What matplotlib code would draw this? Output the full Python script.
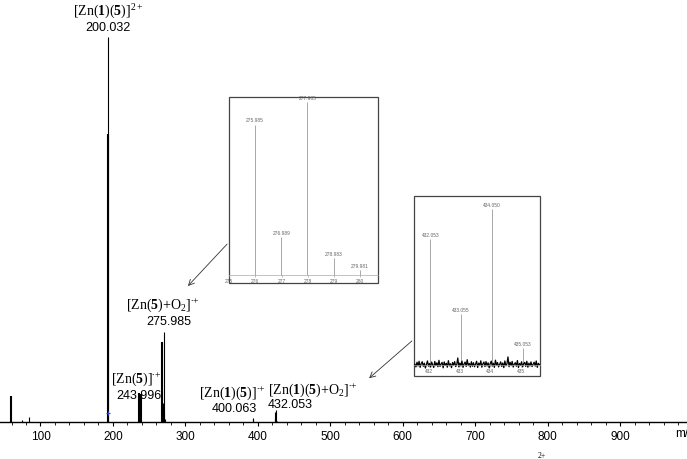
import numpy as np
import matplotlib.pyplot as plt
from matplotlib.patches import Rectangle

plt.rcParams['font.family'] = 'Liberation Sans'
plt.rcParams['mathtext.fontset'] = 'custom'
plt.rcParams['mathtext.rm'] = 'Liberation Serif'
plt.rcParams['mathtext.it'] = 'Liberation Serif:italic'
plt.rcParams['mathtext.bf'] = 'Liberation Serif:bold'

# main spectrum: broad (profile) peaks and thin sticks, m/z vs relative intensity (%)
profile_mz = [59.3, 192.9, 236.4, 239.2, 268.1]
profile_int = [6.75, 74.8, 7.5, 7.3, 20.8]
stick_mz = [74.5, 84.5, 192.9, 269.1, 270.1, 271.1, 272.1,
            393.3, 394.0, 423.1, 424.1, 425.1, 426.1]
stick_int = [0.4, 1.3, 100.0, 5.0, 23.4, 2.3, 0.8,
             1.0, 0.7, 2.6, 1.0, 3.1, 0.35]

# peak annotations: (m/z, intensity) anchor, formula, measured mass
ann_formula = [r'$[\mathrm{Zn}(\mathbf{1})(\mathbf{5})]^{2+}$',
               r'$[\mathrm{Zn}(\mathbf{5}){+}\mathrm{O}_2]^{\bullet{+}}$',
               r'$[\mathrm{Zn}(\mathbf{5})]^{\bullet{+}}$',
               r'$[\mathrm{Zn}(\mathbf{1})(\mathbf{5})]^{\bullet{+}}$',
               r'$[\mathrm{Zn}(\mathbf{1})(\mathbf{5}){+}\mathrm{O}_2]^{\bullet{+}}$']
ann_formula_xy = [(193.2, 106.8), (269.1, 30.6), (231.8, 11.4), (364.4, 7.8), (476.2, 8.6)]
ann_mass = ['200.032', '275.985', '243.996', '400.063', '432.053']
ann_mass_xy = [(193.2, 102.6), (277.4, 26.2), (236.0, 7.0), (367.1, 3.6), (444.5, 4.7)]

# inset 1: isotope pattern of [Zn(5)+O2]
in1_mz = [275.985, 276.989, 277.985, 278.983, 279.981]
in1_int = [87, 22, 100, 10, 3]
in1_ticks = [275, 276, 277, 278, 279, 280]

# inset 2: isotope pattern of [Zn(1)(5)+O2]
in2_mz = [432.053, 433.055, 434.050, 435.053]
in2_int = [81, 33, 100, 11]
in2_ticks = [432, 433, 434, 435]
in2_noise = [0.5, -1.2, 1.8, -0.6, 2.4, -1.5, 0.9, 2.1, -0.8, 1.2, -1.9, 0.4,
             2.6, -0.7, 1.0, -1.3, 1.9, 0.2, -1.6, 2.3, -0.4, 1.4, -1.1, 3.0,
             -0.9, 0.6, 1.7, -1.8, 2.0, -0.3, 1.1, -1.4, 2.8, -0.5, 0.8, -1.7,
             1.6, -0.2, 2.2, -1.0, 0.3, 4.5, -1.2, 1.3, -0.6, 2.5, -1.5, 0.7,
             1.9, -0.9, 3.4, -0.4, 1.0, -1.3, 2.1, -0.8, 1.5, -1.1, 0.6, 2.4,
             -1.6, 1.2, -0.3, 2.7, -1.4, 0.8, 1.9, -1.0, 2.2, -0.6, 1.4, -1.8,
             0.9, 2.5, -0.7, 1.1, -1.5, 3.1, -0.2, 1.6, -1.2, 0.4, 2.0, -0.9,
             1.3, -1.7, 2.6, -0.5, 0.7, 5.2, -1.1, 1.8, -0.4, 2.3, -1.3, 0.6,
             1.5, -0.8, 2.9, -1.6, 1.0, -0.3, 2.1, -1.2, 0.8, 1.7, -0.9, 2.4,
             -1.4, 1.2, -0.6, 2.0, -1.0, 0.5, 1.8, -0.7, 2.6, -1.5, 1.1, 0.3]

fig = plt.figure(figsize=(6.87, 4.60), dpi=100)
ax = fig.add_axes([0, 0.0804, 1, 0.9196])

ax.vlines(profile_mz, 0, profile_int, color='black', lw=1.5)
ax.vlines(stick_mz, 0, stick_int, color='black', lw=0.8)
ax.plot([192.9], [2.3], marker='+', color='#3344cc', ms=3, mew=0.8)

for txt, (x, y) in zip(ann_formula, ann_formula_xy):
    ax.text(x, y, txt, ha='center', va='center', fontsize=10)
for txt, (x, y) in zip(ann_mass, ann_mass_xy):
    ax.text(x, y, txt, ha='center', va='center', fontsize=9)

ax.set_xlim(44.1, 992.4)
ax.set_ylim(0, 109.87)
ax.set_xticks(range(100, 1000, 100))
ax.set_xticks(range(60, 1000, 20), minor=True)
ax.tick_params(axis='x', which='major', direction='out', length=3, width=0.8,
               pad=2.5, labelsize=8.5)
ax.tick_params(axis='x', which='minor', direction='out', length=2, width=0.6)
ax.set_yticks([])
for s in ['left', 'right', 'top']:
    ax.spines[s].set_visible(False)
ax.spines['bottom'].set_linewidth(1.0)
ax.patch.set_alpha(0)
# axis title sits at the right edge, partly cut off as in the original
ax.text(976, -2.86, 'm/z', ha='left', va='center', fontsize=8.5, clip_on=False)

fig.text(538 / 687, 1 - 456 / 460, '2+', fontsize=5.5, family='Liberation Serif',
         va='center')


def draw_inset(rect, mz_vals, int_vals, ticks, xlim, ylim):
    ins = fig.add_axes(rect)
    ins.vlines(mz_vals, 0, int_vals, color='#9a9a9a', lw=0.6)
    for x, y in zip(mz_vals, int_vals):
        ins.text(x, y + 1.2, f'{x:.3f}', ha='center', va='bottom',
                 fontsize=3.5, color='#666666')
    ins.set_xlim(*xlim)
    ins.set_ylim(*ylim)
    ins.set_xticks(ticks)
    ins.set_yticks([])
    ins.tick_params(axis='x', direction='out', length=1.5, width=0.4, pad=0.8,
                    labelsize=3.5, labelcolor='#666666', color='#888888')
    for s in ['left', 'right', 'top']:
        ins.spines[s].set_visible(False)
    ins.spines['bottom'].set_position(('data', 0))
    ins.spines['bottom'].set_color('#aaaaaa')
    ins.spines['bottom'].set_linewidth(0.5)
    ins.add_patch(Rectangle((0, 0), 1, 1, transform=ins.transAxes, fill=False,
                            edgecolor='#444444', lw=0.9, clip_on=False))
    return ins


in1 = draw_inset([0.3333, 0.3826, 0.2169, 0.4043], in1_mz, in1_int, in1_ticks,
                 (275.1, 280.67), (-4.6, 102.9))
in2 = draw_inset([0.6026, 0.1804, 0.1834, 0.3913], in2_mz, in2_int, in2_ticks,
                 (431.52, 435.62), (-7.05, 108.3))
noise_x = np.linspace(431.55, 435.6, len(in2_noise))
in2.plot(noise_x, in2_noise, color='black', lw=0.9)

ax.annotate('', xy=(300.9, 34.8), xycoords='data', xytext=(0, 0.22),
            textcoords=in1.transAxes,
            arrowprops=dict(arrowstyle='->', lw=0.6, color='#333333'))
ax.annotate('', xy=(550.7, 10.9), xycoords='data', xytext=(0, 0.205),
            textcoords=in2.transAxes,
            arrowprops=dict(arrowstyle='->', lw=0.6, color='#333333'))

fig.savefig('out.png', dpi=100)
